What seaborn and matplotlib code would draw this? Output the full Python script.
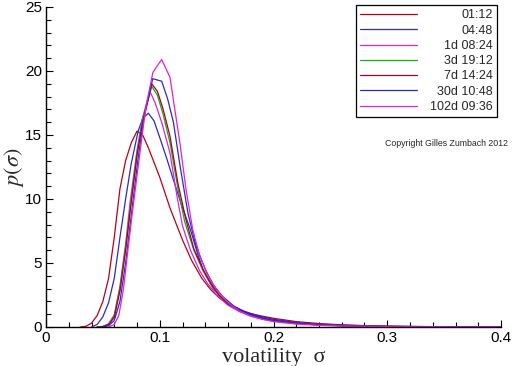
import matplotlib
matplotlib.use("Agg")
import matplotlib.pyplot as plt
import matplotlib.transforms as mtransforms
from matplotlib.ticker import MultipleLocator
import numpy as np
import pandas as pd
import seaborn as sns

labels = ["01:12", "04:48", "1d 08:24", "3d 19:12", "7d 14:24", "30d 10:48", "102d 09:36"]
colors = ["#b80018", "#2a2ac8", "#e020e0", "#10b010", "#a80020", "#2a2ac0", "#e020e0"]

# volatility grid and density for each time horizon
sig_0112 = [0.03, 0.035, 0.04, 0.045, 0.05, 0.055, 0.06, 0.065, 0.07, 0.075, 0.08, 0.085, 0.09,
            0.1, 0.109, 0.12, 0.128, 0.137, 0.145, 0.152, 0.16, 0.17, 0.18, 0.19, 0.2, 0.22,
            0.24, 0.26, 0.28, 0.3, 0.35, 0.4]
p_0112 = [0, 0.05, 0.3, 0.9, 2.0, 3.8, 7.0, 10.8, 13.0, 14.4, 15.3, 15.0, 14.0,
          11.7, 9.3, 6.8, 5.2, 3.8, 2.9, 2.3, 1.75, 1.35, 1.05, 0.85, 0.68, 0.42,
          0.27, 0.17, 0.11, 0.07, 0.02, 0.01]

sig_0448 = [0.04, 0.045, 0.05, 0.055, 0.06, 0.065, 0.07, 0.075, 0.081, 0.085, 0.09, 0.095, 0.1,
            0.106, 0.112, 0.12, 0.127, 0.133, 0.138, 0.147, 0.155, 0.165, 0.175, 0.185, 0.2,
            0.22, 0.24, 0.26, 0.28, 0.3, 0.35, 0.4]
p_0448 = [0, 0.2, 0.8, 1.9, 3.8, 7.0, 10.0, 12.8, 15.3, 16.3, 16.7, 16.1, 14.8,
          13.2, 11.5, 9.3, 7.6, 5.8, 4.5, 3.0, 2.2, 1.6, 1.2, 0.9, 0.6,
          0.36, 0.22, 0.14, 0.09, 0.05, 0.015, 0.005]

sig_1d = [0.045, 0.05, 0.055, 0.06, 0.065, 0.07, 0.074, 0.08, 0.085, 0.0914, 0.096, 0.102,
          0.109, 0.115, 0.12, 0.127, 0.135, 0.142, 0.15, 0.16, 0.17, 0.18, 0.19, 0.2, 0.22,
          0.24, 0.26, 0.28, 0.3, 0.35, 0.4]
p_1d = [0, 0.05, 0.25, 0.95, 3.2, 6.5, 9.8, 13.8, 16.4, 18.4, 17.5, 15.9,
        13.6, 10.3, 7.9, 6.0, 4.4, 3.4, 2.5, 1.7, 1.2, 0.85, 0.62, 0.47, 0.27,
        0.16, 0.1, 0.06, 0.04, 0.01, 0.0]

sig_3d = [0.045, 0.05, 0.055, 0.06, 0.065, 0.07, 0.075, 0.08, 0.085, 0.093, 0.098, 0.103,
          0.109, 0.116, 0.122, 0.13, 0.138, 0.145, 0.152, 0.16, 0.17, 0.18, 0.19, 0.2, 0.22,
          0.24, 0.26, 0.28, 0.3, 0.35, 0.4]
p_3d = [0, 0.04, 0.2, 0.85, 3.0, 6.2, 10.0, 13.6, 16.2, 18.8, 18.1, 16.6,
        14.4, 10.8, 8.2, 6.0, 4.4, 3.3, 2.5, 1.8, 1.28, 0.92, 0.67, 0.5, 0.29,
        0.17, 0.1, 0.07, 0.04, 0.01, 0.0]

sig_7d = [0.045, 0.05, 0.055, 0.06, 0.065, 0.07, 0.075, 0.08, 0.085, 0.093, 0.098, 0.103,
          0.109, 0.116, 0.123, 0.13, 0.138, 0.145, 0.152, 0.16, 0.17, 0.18, 0.19, 0.2, 0.22,
          0.24, 0.26, 0.28, 0.3, 0.35, 0.4]
p_7d = [0, 0.03, 0.18, 0.75, 2.8, 6.0, 9.8, 13.4, 16.0, 19.0, 18.4, 17.0,
        14.9, 11.2, 8.4, 6.1, 4.5, 3.4, 2.5, 1.82, 1.3, 0.95, 0.7, 0.52, 0.3,
        0.18, 0.11, 0.07, 0.045, 0.01, 0.0]

sig_30d = [0.05, 0.055, 0.06, 0.065, 0.07, 0.076, 0.081, 0.086, 0.0938, 0.1017, 0.107, 0.112,
           0.118, 0.125, 0.132, 0.14, 0.147, 0.155, 0.165, 0.175, 0.185, 0.2, 0.22, 0.24,
           0.26, 0.28, 0.3, 0.35, 0.4]
p_30d = [0, 0.1, 0.5, 2.0, 5.0, 9.5, 13.2, 16.3, 19.4, 19.2, 17.8, 16.0,
         12.5, 8.8, 6.3, 4.5, 3.3, 2.4, 1.65, 1.15, 0.82, 0.5, 0.28, 0.16,
         0.1, 0.06, 0.035, 0.01, 0.0]

sig_102d = [0.055, 0.06, 0.064, 0.068, 0.072, 0.076, 0.08, 0.084, 0.088, 0.094, 0.1017, 0.109,
            0.118, 0.123, 0.129, 0.135, 0.142, 0.15, 0.16, 0.17, 0.18, 0.19, 0.2, 0.22, 0.24,
            0.26, 0.28, 0.3, 0.35, 0.4]
p_102d = [0, 0.2, 0.9, 2.9, 6.0, 9.0, 11.8, 14.6, 17.3, 19.9, 20.9, 19.5,
          14.2, 10.8, 7.6, 5.6, 4.1, 2.9, 1.9, 1.25, 0.85, 0.6, 0.42, 0.23, 0.13,
          0.08, 0.05, 0.03, 0.01, 0.0]

sigmas = [sig_0112, sig_0448, sig_1d, sig_3d, sig_7d, sig_30d, sig_102d]
dens = [p_0112, p_0448, p_1d, p_3d, p_7d, p_30d, p_102d]

frames = []
for lab, s, p in zip(labels, sigmas, dens):
    frames.append(pd.DataFrame({"sigma": s, "p": p, "horizon": lab}))
df = pd.concat(frames, ignore_index=True)

sns.set_style("white")
plt.rcParams["font.family"] = ["Liberation Sans", "DejaVu Sans"]
plt.rcParams["mathtext.fontset"] = "stix"

fig = plt.figure(figsize=(5.12, 3.66), dpi=100)
ax = fig.add_axes([46 / 512, 1 - 327 / 366, 455 / 512, 320 / 366])

sns.lineplot(data=df, x="sigma", y="p", hue="horizon", hue_order=labels,
             palette=dict(zip(labels, colors)), sort=False, estimator=None,
             linewidth=0.9, ax=ax)

ax.set_xlim(0, 0.4)
ax.set_ylim(0, 25)
ax.xaxis.set_major_locator(MultipleLocator(0.1))
ax.xaxis.set_minor_locator(MultipleLocator(0.02))
ax.yaxis.set_major_locator(MultipleLocator(5))
ax.yaxis.set_minor_locator(MultipleLocator(1))
ax.set_xticks([0, 0.1, 0.2, 0.3, 0.4], ["0", "0.1", "0.2", "0.3", "0.4"])
ax.tick_params(which="both", direction="in", bottom=True, left=True, top=False, right=False,
               color="black", width=0.8, labelsize=11, labelcolor="black")
ax.tick_params(which="major", length=5, pad=3)
ax.tick_params(which="minor", length=3.5)
for side in ["top", "right"]:
    ax.spines[side].set_visible(False)
for side in ["left", "bottom"]:
    ax.spines[side].set_color("black")
    ax.spines[side].set_linewidth(1.0)

ax.set_xlabel("volatility  σ", fontfamily="Liberation Serif", fontsize=16, labelpad=2)
ax.set_ylabel(r"$p(\sigma)$", fontsize=16)
ax.yaxis.set_label_coords(-20 / 455, 0.5)

leg = ax.legend(loc="upper right", bbox_to_anchor=(497 / 512, 1 - 5 / 366),
                bbox_transform=fig.transFigure, borderaxespad=0, frameon=True,
                fancybox=False, edgecolor="black", framealpha=1, fontsize=9,
                handlelength=4.6, handletextpad=1.0, labelspacing=0.26,
                borderpad=0.35)
leg.get_frame().set_linewidth(0.9)

# right-align the legend labels like the original
fig.canvas.draw()
texts = leg.get_texts()
widths = [t.get_window_extent().width for t in texts]
wmax = max(widths)
for t, w in zip(texts, widths):
    t.set_transform(t.get_transform() + mtransforms.Affine2D().translate(wmax - w, 0))

fig.text(508 / 512, 1 - 143 / 366, "Copyright Gilles Zumbach 2012", ha="right", va="center",
         fontsize=6.3)

fig.savefig("out.png", dpi=100)
